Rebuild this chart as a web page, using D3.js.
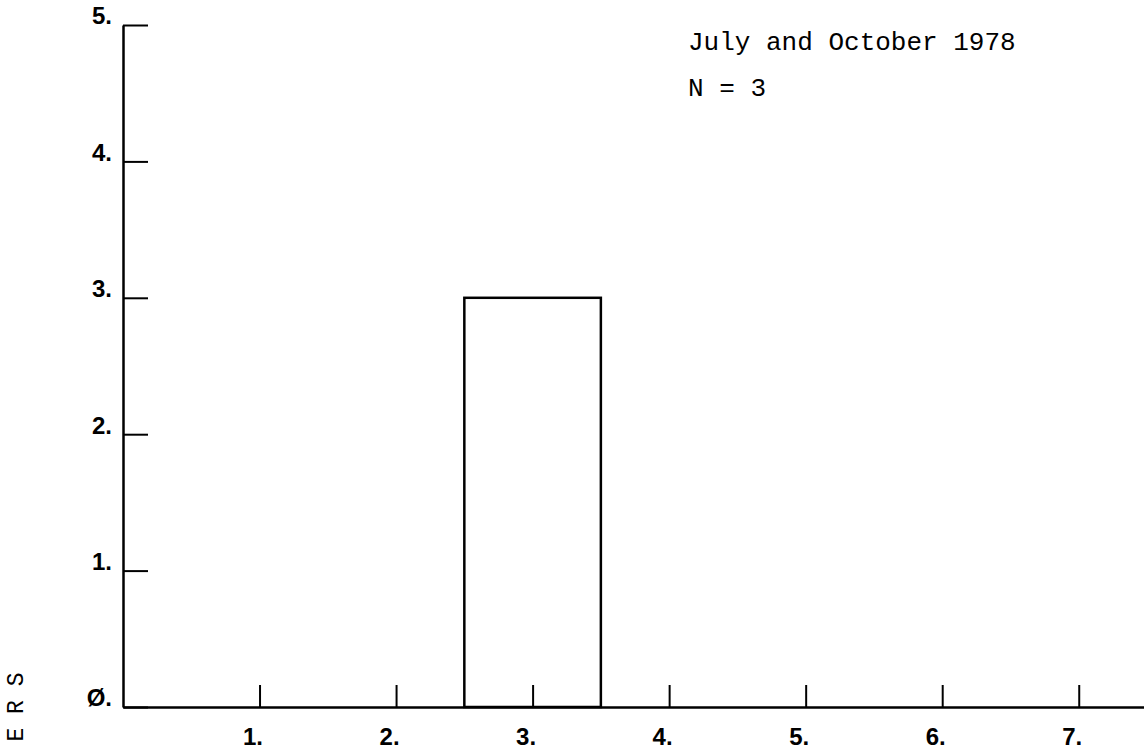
<!DOCTYPE html>
<html>
<head>
<meta charset="utf-8">
<script src="https://cdn.jsdelivr.net/npm/d3@7"></script>
<style>
  html, body { margin: 0; padding: 0; background: #fff; }
  svg { display: block; }
</style>
</head>
<body>
<svg id="chart" width="1144" height="749"></svg>
<script>
// ---- data ----
const categories = [1, 2, 3, 4, 5, 6, 7];
const counts = [0, 0, 3, 0, 0, 0, 0];
const yTickValues = [0, 1, 2, 3, 4, 5];
const yTickLabels = ["Ø.", "1.", "2.", "3.", "4.", "5."];
const xTickLabels = ["1.", "2.", "3.", "4.", "5.", "6.", "7."];
const titleLines = ["July and October 1978", "N = 3"];
const yAxisTitle = "E R S";

// ---- layout ----
const svg = d3.select("#chart");
const x = d3.scaleLinear().domain([0, 7.5]).range([123, 1147]);
const y = d3.scaleLinear().domain([0, 5]).range([707, 25]);

const labelFont = "'Liberation Sans', Arial, sans-serif";
const monoFont = "'Courier New', 'Liberation Mono', 'DejaVu Sans Mono', monospace";

// y axis
const yAxis = d3.axisLeft(y)
  .tickValues(yTickValues)
  .tickFormat((d, i) => yTickLabels[i])
  .tickSizeInner(-25)
  .tickSizeOuter(0)
  .tickPadding(11);
const gy = svg.append("g").attr("transform", `translate(${x(0)},0)`).call(yAxis);
gy.select(".domain").attr("stroke", "#000").attr("stroke-width", 2.5);
gy.selectAll(".tick line").attr("stroke", "#000").attr("stroke-width", 2);
gy.selectAll(".tick text")
  .attr("font-family", labelFont)
  .attr("font-weight", "bold")
  .attr("font-size", 24)
  .attr("fill", "#000")
  .attr("dy", "-0.05em");

// x axis
const xAxis = d3.axisBottom(x)
  .tickValues(categories)
  .tickFormat((d, i) => xTickLabels[i])
  .tickSizeInner(-22)
  .tickSizeOuter(0)
  .tickPadding(21);
const gx = svg.append("g").attr("transform", `translate(0,${y(0)})`).call(xAxis);
gx.select(".domain").attr("stroke", "#000").attr("stroke-width", 2.5);
gx.selectAll(".tick line").attr("stroke", "#000").attr("stroke-width", 2);
gx.selectAll(".tick text")
  .attr("font-family", labelFont)
  .attr("font-weight", "bold")
  .attr("font-size", 24)
  .attr("fill", "#000")
  .attr("text-anchor", "end")
  .attr("x", 3);

// histogram bars
svg.append("g").selectAll("rect")
  .data(categories.map((c, i) => ({ c, v: counts[i] })).filter(d => d.v > 0))
  .join("rect")
  .attr("x", d => x(d.c - 0.5))
  .attr("width", d => x(d.c + 0.5) - x(d.c - 0.5))
  .attr("y", d => y(d.v))
  .attr("height", d => y(0) - y(d.v))
  .attr("fill", "none")
  .attr("stroke", "#000")
  .attr("stroke-width", 2.5);

// annotation text
svg.append("g").selectAll("text")
  .data(titleLines)
  .join("text")
  .attr("x", 688)
  .attr("y", (d, i) => 50 + i * 46)
  .attr("font-family", monoFont)
  .attr("font-size", 26)
  .attr("fill", "#000")
  .text(d => d);

// partial (cut-off) y axis title
svg.append("text")
  .attr("transform", "translate(23,707) rotate(-90)")
  .attr("text-anchor", "middle")
  .attr("font-family", monoFont)
  .attr("font-size", 23)
  .attr("fill", "#000")
  .text(yAxisTitle);
</script>
</body>
</html>
